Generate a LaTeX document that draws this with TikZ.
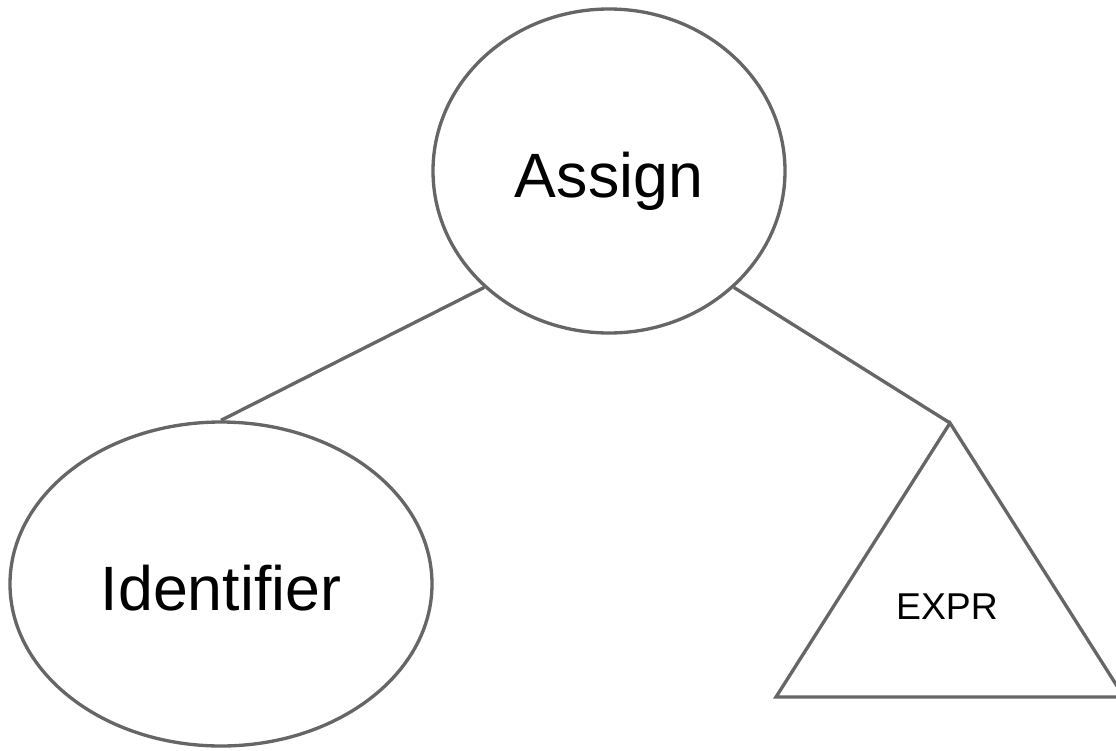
\documentclass[tikz,border=0pt]{standalone}
\usepackage{fontspec}
\setmainfont{Liberation Sans}
\usetikzlibrary{shapes.geometric}
\definecolor{vgray}{HTML}{666666}

\begin{document}
\begin{tikzpicture}[x=0.75pt, y=-0.75pt]
		\tikzset{
			treenode/.style={draw=vgray, line width=2.5pt, ellipse, inner sep=0pt, text height=40pt, text depth=0pt, font=\fontsize{47}{56}\selectfont},
			treeedge/.style={draw=vgray, line width=2.5pt}
		}
		\clip (0,0) rectangle (1116,750);
		\node[treenode, minimum width=264pt, minimum height=243pt] (assign) at (609,171) {Assign};
		\node[treenode, minimum width=316.5pt, minimum height=243pt] (identifier) at (221,584) {Identifier};
		\coordinate (apex)	 at (950,423);
		\coordinate (baseleft)	 at (776,697);
		\coordinate (baseright)	 at (1124,697);
		\draw[treeedge, line join=miter] (apex) -- (baseleft) -- (baseright) -- cycle;
		\node[font=\fontsize{28}{33}\selectfont] (expr) at (947,607) {EXPR};
		\draw[treeedge] (assign.223) -- (identifier.north);
		\draw[treeedge] (assign.317) -- (apex);
	\end{tikzpicture}
\end{document}
